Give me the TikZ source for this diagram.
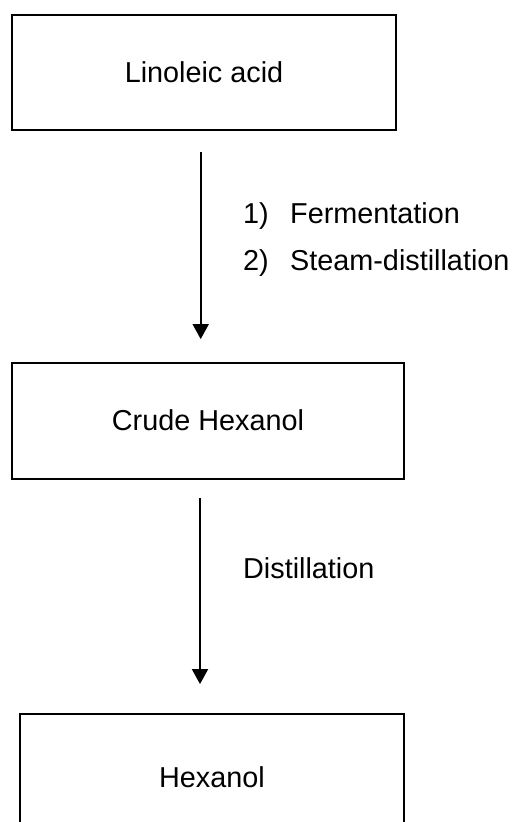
\documentclass[tikz,border=0pt]{standalone}
\usepackage{fontspec}
\setmainfont{Liberation Sans}
\usetikzlibrary{arrows.meta}
\begin{document}
\begin{tikzpicture}[x=1pt,y=-1pt,
  box/.style={draw=black, line width=1.8pt, rectangle, inner sep=0pt,
    font=\fontsize{28.8}{34}\selectfont},
  flow/.style={line width=1.8pt, -{Triangle[length=15pt,width=16pt]}},
  lbl/.style={inner sep=0pt, anchor=base west, align=left,
    font=\fontsize{28.8}{47.4}\selectfont}]
\useasboundingbox (0,0) rectangle (517,822);
\node[box, minimum width=384pt, minimum height=115.3pt] (b1) at (204,72.35) {Linoleic acid};
\node[box, minimum width=392pt, minimum height=116pt] (b2) at (208,420.7) {Crude Hexanol};
\node[box, minimum width=384pt, minimum height=125.4pt] (b3) at (212,776.7) {Hexanol};
\coordinate (ax1) at (200.7,0);
\coordinate (ax2) at (200,0);
\draw[flow, shorten <=20.7pt, shorten >=22.7pt] (b1.south -| ax1) -- (b2.north -| ax1);
\draw[flow, shorten <=18pt, shorten >=29pt] (b2.south -| ax2) -- (b3.north -| ax2);
\node[lbl] (l1) at (243,270.7) {\makebox[47pt][l]{1)}Fermentation\\\makebox[47pt][l]{2)}Steam-distillation};
\node[lbl] (l2) at (243,578.3) {Distillation};
\end{tikzpicture}
\end{document}
